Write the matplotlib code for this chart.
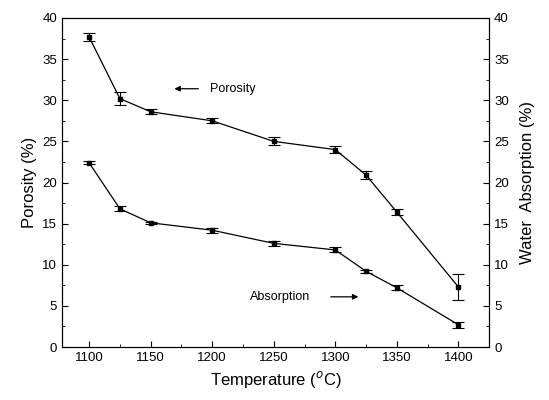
import matplotlib
matplotlib.use("Agg")
import matplotlib.pyplot as plt
from matplotlib.ticker import MultipleLocator

plt.rcParams.update({
    "font.family": "Liberation Sans",
    "font.size": 10,
    "xtick.direction": "in",
    "ytick.direction": "in",
})

# data
temperature = [1100, 1125, 1150, 1200, 1250, 1300, 1325, 1350, 1400]
porosity = [37.7, 30.2, 28.6, 27.5, 25.0, 24.0, 20.9, 16.4, 7.3]
porosity_err = [0.5, 0.8, 0.3, 0.3, 0.5, 0.4, 0.5, 0.4, 1.6]
absorption = [22.4, 16.8, 15.1, 14.2, 12.6, 11.8, 9.2, 7.2, 2.7]
absorption_err = [0.2, 0.3, 0.15, 0.3, 0.3, 0.3, 0.2, 0.3, 0.4]

fig = plt.figure(figsize=(5.49, 4.0), dpi=100)
ax = fig.add_axes([0.113, 0.1325, 0.778, 0.8225])

style = dict(color="black", marker="s", markersize=2.5, linewidth=0.9,
             capsize=4, elinewidth=0.8, capthick=0.8)
ax.errorbar(temperature, porosity, yerr=porosity_err, **style)
ax.errorbar(temperature, absorption, yerr=absorption_err, **style)

ax.set_xlim(1078, 1425)
ax.set_ylim(0, 40)
ax.xaxis.set_major_locator(MultipleLocator(50))
ax.xaxis.set_minor_locator(MultipleLocator(25))
ax.yaxis.set_major_locator(MultipleLocator(5))
ax.yaxis.set_minor_locator(MultipleLocator(2.5))
ax.tick_params(which="major", length=4, labelsize=9.5)
ax.tick_params(which="minor", length=2.5)
ax.set_xlabel("Temperature ($^o$C)", fontsize=12)
ax.set_ylabel("Porosity (%)", fontsize=12)

ax2 = ax.twinx()
ax2.set_ylim(0, 40)
ax2.yaxis.set_major_locator(MultipleLocator(5))
ax2.yaxis.set_minor_locator(MultipleLocator(2.5))
ax2.tick_params(which="major", length=4, labelsize=9.5)
ax2.tick_params(which="minor", length=2.5)
ax2.set_ylabel("Water  Absorption (%)", fontsize=12, labelpad=8)

ax.annotate("", xy=(1167, 31.4), xytext=(1191, 31.4),
            arrowprops=dict(arrowstyle="-|>", color="black", lw=0.9, mutation_scale=8))
ax.text(1198, 31.4, "Porosity", fontsize=9, va="center")
ax.text(1231, 6.1, "Absorption", fontsize=9, va="center")
ax.annotate("", xy=(1321, 6.1), xytext=(1294, 6.1),
            arrowprops=dict(arrowstyle="-|>", color="black", lw=0.9, mutation_scale=8))

fig.savefig("out.png", dpi=100)
